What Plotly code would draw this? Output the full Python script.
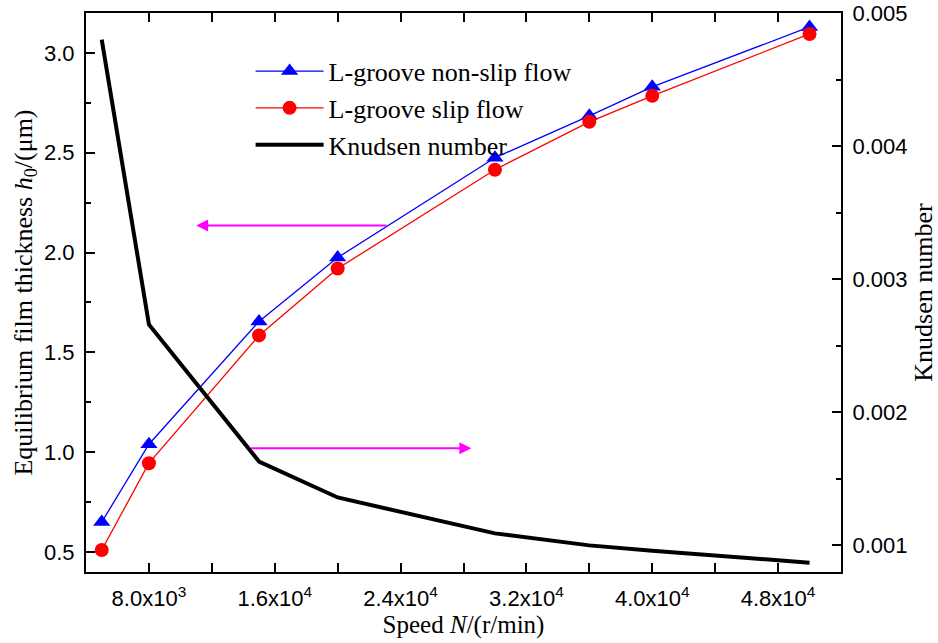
import plotly.graph_objects as go

# Rotor speed (r/min)
speed = [5000, 8000, 15000, 20000, 30000, 36000, 40000, 50000]
# Equilibrium film thickness h0 (um)
h0_nonslip = [0.65, 1.04, 1.655, 1.975, 2.475, 2.685, 2.83, 3.13]
h0_slip = [0.51, 0.945, 1.585, 1.92, 2.415, 2.655, 2.785, 3.095]
# Knudsen number
knudsen = [0.0048, 0.00266, 0.00163, 0.00136, 0.00109, 0.001, 0.00096, 0.00087]

x_tickvals = [8000, 16000, 24000, 32000, 40000, 48000]
x_ticktext = ["8.0x10<sup>3</sup>", "1.6x10<sup>4</sup>", "2.4x10<sup>4</sup>",
              "3.2x10<sup>4</sup>", "4.0x10<sup>4</sup>", "4.8x10<sup>4</sup>"]

SERIF = "Liberation Serif, Times New Roman, serif"
SANS = "Liberation Sans, Arial, sans-serif"

fig = go.Figure()
fig.add_trace(go.Scatter(
    x=speed, y=h0_nonslip, name="L-groove non-slip flow", mode="lines+markers",
    line=dict(color="#0000ff", width=1.3),
    marker=dict(symbol="triangle-up", size=15, color="#0000ff"),
))
fig.add_trace(go.Scatter(
    x=speed, y=h0_slip, name="L-groove slip flow", mode="lines+markers",
    line=dict(color="#ff0000", width=1.3),
    marker=dict(symbol="circle", size=14, color="#ff0000"),
))
fig.add_trace(go.Scatter(
    x=speed, y=knudsen, name="Knudsen number", mode="lines",
    line=dict(color="#000000", width=4), yaxis="y2",
))

axis_common = dict(
    showline=True, linecolor="black", linewidth=2,
    ticks="inside", ticklen=9, tickwidth=2, tickcolor="black",
    showgrid=False, zeroline=False, automargin=False,
    tickfont=dict(family=SANS, size=22, color="black"),
)
minor_common = dict(ticks="inside", ticklen=5, tickwidth=2, tickcolor="black")

fig.update_layout(
    width=938, height=643,
    margin=dict(l=86, r=97, t=13, b=71),
    plot_bgcolor="white", paper_bgcolor="white",
    showlegend=True,
    legend=dict(
        x=0.218, y=0.938, xanchor="left", yanchor="top",
        font=dict(family=SERIF, size=26, color="black"),
        bgcolor="rgba(0,0,0,0)", itemwidth=68, tracegroupgap=0,
    ),
    xaxis=dict(
        range=[4000, 52000], tickvals=x_tickvals, ticktext=x_ticktext,
        mirror="allticks", minor=dict(dtick=4000, **minor_common),
        ticklabelstandoff=6,
        title=dict(text="Speed <i>N</i>/(r/min)", font=dict(family=SERIF, size=25, color="black"),
                   standoff=0),
        **axis_common,
    ),
    yaxis=dict(
        range=[0.4, 3.2], tickvals=[0.5, 1.0, 1.5, 2.0, 2.5, 3.0], tickformat=".1f",
        minor=dict(dtick=0.25, tick0=0.25, **minor_common),
        ticklabelstandoff=5,
        title=dict(text="Equilibrium film thickness <i>h</i><sub>0</sub>/(μm)",
                   font=dict(family=SERIF, size=26, color="black"), standoff=4),
        **axis_common,
    ),
    yaxis2=dict(
        range=[0.0008, 0.005], overlaying="y", side="right",
        tickvals=[0.001, 0.002, 0.003, 0.004, 0.005], tickformat=".3f",
        minor=dict(dtick=0.0005, tick0=0.0005, **minor_common),
        ticklabelstandoff=5,
        title=dict(text="Knudsen number", font=dict(family=SERIF, size=26, color="black"), standoff=18),
        **axis_common,
    ),
)

# Arrows indicating which axis each curve family belongs to
fig.add_annotation(x=11000, y=2.135, ax=23200, ay=2.135, xref="x", yref="y",
                   axref="x", ayref="y", showarrow=True, arrowhead=2, arrowsize=1.2,
                   arrowwidth=2, arrowcolor="#ff00ff", text="")
fig.add_annotation(x=28500, y=0.00173, ax=14400, ay=0.00173, xref="x", yref="y2",
                   axref="x", ayref="y2", showarrow=True, arrowhead=2, arrowsize=1.2,
                   arrowwidth=2, arrowcolor="#ff00ff", text="")

fig.write_html("out.html")
